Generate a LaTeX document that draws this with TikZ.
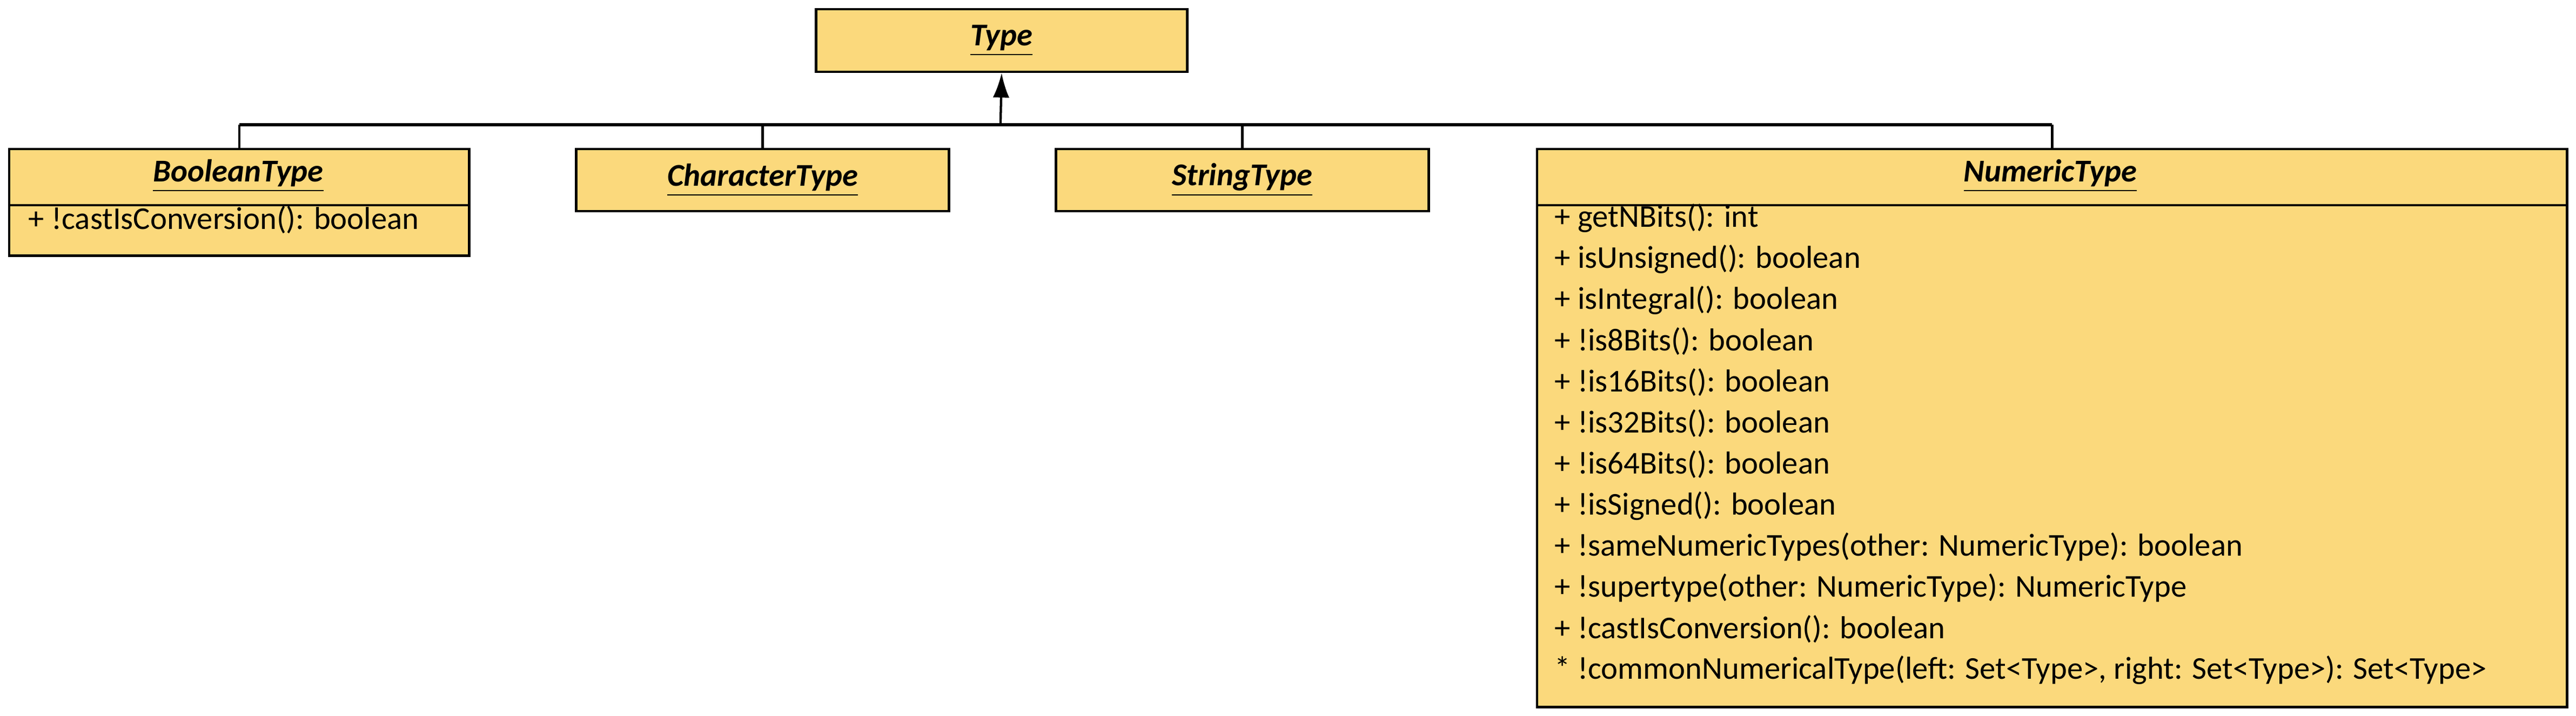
\documentclass[tikz,border=0pt]{standalone}
\usepackage{fontspec}
\setmainfont{Carlito}
\usetikzlibrary{arrows.meta}
\definecolor{boxfill}{RGB}{251,217,124}

\tikzset{
  cls/.style={draw, thick, fill=boxfill, anchor=north west, inner sep=0pt},
  clsname/.style={font=\bfseries\itshape\fontsize{11}{13}\selectfont},
  member/.style={anchor=west, font=\fontsize{11}{13}\selectfont, inner sep=0pt},
}
\newcommand{\uname}[1]{\underline{#1}}

\begin{document}
\begin{tikzpicture}[x=0.02cm, y=-0.02cm]
        \useasboundingbox (0,0) rectangle (1568,436);

        % classes
        \node (type) [cls, minimum width=4.52cm, minimum height=0.76cm] at (496,5) {};
        \node [clsname] at (type.center) {\uname{Type}};

        \node (bool) [cls, minimum width=5.6cm, minimum height=1.3cm] at (5,90) {};
        \node [clsname] at (145,107) {\uname{BooleanType}};
        \draw [thick] (5,125) -- (285,125);
        \node [member] at (17,134) {+ !castIsConversion(): boolean};

        \node (char) [cls, minimum width=4.54cm, minimum height=0.76cm] at (350,90) {};
        \node [clsname] at (char.center) {\uname{CharacterType}};

        \node (str) [cls, minimum width=4.54cm, minimum height=0.76cm] at (642,90) {};
        \node [clsname] at (str.center) {\uname{StringType}};

        \node (num) [cls, minimum width=12.54cm, minimum height=6.8cm] at (935,90) {};
        \node [clsname] at (1248,107) {\uname{NumericType}};
        \draw [thick] (935,125) -- (1562,125);
        \foreach \m [count=\i from 0] in {%
            + getNBits(): int,
            + isUnsigned(): boolean,
            + isIntegral(): boolean,
            + !is8Bits(): boolean,
            + !is16Bits(): boolean,
            + !is32Bits(): boolean,
            + !is64Bits(): boolean,
            + !isSigned(): boolean,
            + !sameNumericTypes(other: NumericType): boolean,
            + !supertype(other: NumericType): NumericType,
            + !castIsConversion(): boolean,
            {* !commonNumericalType(left: Set<Type>, right: Set<Type>): Set<Type>}}
          { \node [member] at (946,133+25*\i) {\m}; }

        % generalisation
        \coordinate (bar) at (609,76);
        \draw [very thick] (bool.north |- bar) -- (num.north |- bar);
        \draw [thick, -{Latex[length=3mm, width=2mm]}] (bar) -- (type.south);
        \foreach \n in {bool, char, str, num}
          { \draw [thick] (\n.north |- bar) -- (\n.north); }
\end{tikzpicture}
\end{document}
